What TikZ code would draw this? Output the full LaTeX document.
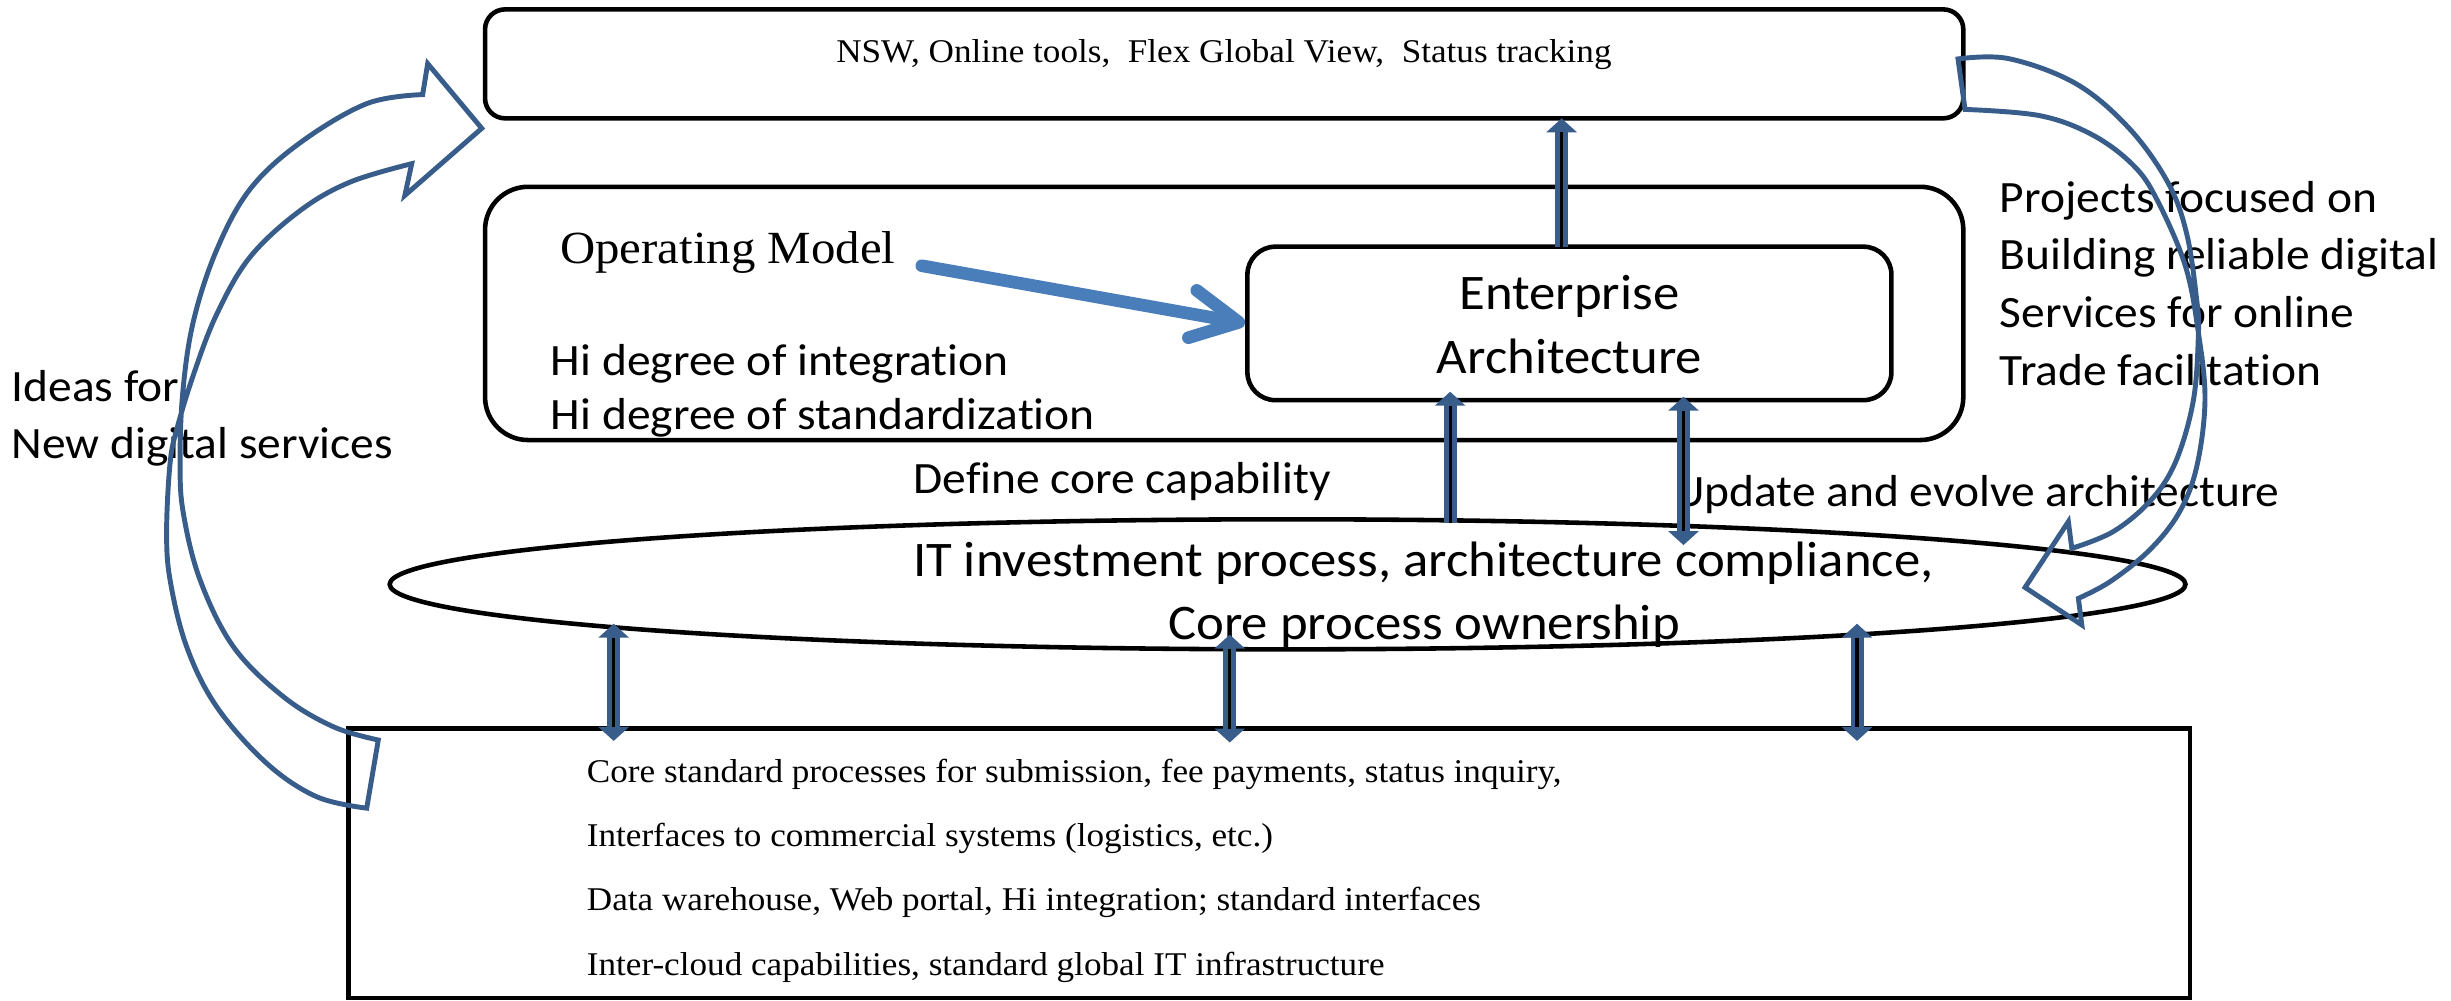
\documentclass[tikz,border=0pt]{standalone}
\usepackage{fontspec}
\setmainfont{Liberation Serif}[FakeStretch=1.06]
\newfontfamily\califont{Carlito}[FakeStretch=1.06, Ligatures=NoCommon]
\usetikzlibrary{arrows.meta,shapes.geometric,fit}
\definecolor{navy}{RGB}{56,93,138}
\definecolor{lblue}{RGB}{74,126,187}
\begin{document}
\begin{tikzpicture}[x=0.015631cm,y=-0.015631cm,
  box/.style={draw, line width=1.3pt, inner sep=0pt},
  cal/.style={font=\califont\fontsize{12.74}{15.3}\selectfont, inner sep=0pt},
  calbig/.style={font=\califont\fontsize{14.15}{17}\selectfont, inner sep=0pt},
  tms/.style={font=\fontsize{9.43}{11.3}\selectfont, inner sep=0pt},
  tmsbig/.style={font=\fontsize{13.1}{15.7}\selectfont, inner sep=0pt},
  dblarrow/.style={draw=navy, line width=3.7pt, {Triangle[width=0.3cm,length=0.14cm]}-{Triangle[width=0.3cm,length=0.14cm]}},
  uparrow/.style={draw=navy, line width=3.7pt, -{Triangle[width=0.3cm,length=0.14cm]}},
  core/.style={draw=black, line width=0.9pt},
  curved/.style={draw=navy, line width=1.4pt},
]
\useasboundingbox (0,0) rectangle (1568,639.75);

% boxes
\node[box, rounded corners=0.2cm, fit={(310.3,6) (1256,75.7)}] (topbox) {};
\node[box, rounded corners=0.43cm, fit={(310.3,119.5) (1256,281.5)}] (midbox) {};
\node[box, rounded corners=0.28cm, fit={(798,157.8) (1210,256)}] (ea) {};
\node[ellipse, draw, line width=1.3pt, minimum width=17.95cm, minimum height=1.30cm, inner sep=0pt] (ell) at (823.7,373.8) {};
\node[box, fit={(223,466) (1401,638.5)}] (botbox) {};

% texts
\node[tms, anchor=base] (toptext) at (783,40) {NSW, Online tools,\ \ Flex Global View,\ \ Status tracking};
\node[tmsbig, anchor=base west] (opm) at (358,168.5) {Operating Model};
\node[cal, anchor=base west] (hi1) at (352,240) {Hi degree of integration};
\node[cal, anchor=base west] (hi2) at (352,275) {Hi degree of standardization};
\node[calbig, anchor=base] (ea1) at (1004,198) {Enterprise};
\node[calbig, anchor=base] (ea2) at (1004,239) {Architecture};
\node[cal, anchor=base west] (ideas1) at (7,257) {Ideas for};
\node[cal, anchor=base west] (ideas2) at (7,293.6) {New digital services};
\node[cal, anchor=base west] (proj1) at (1279,136) {Projects focused on};
\node[cal, anchor=base west] (proj2) at (1279,172.3) {Building reliable digital};
\node[cal, anchor=base west] (proj3) at (1279,209.5) {Services for online};
\node[cal, anchor=base west] (proj4) at (1279,246.4) {Trade facilitation};
\node[cal, anchor=base west] (define) at (584,315.6) {Define core capability};
\node[cal, anchor=base west] (update) at (1070.5,324.2) {Update and evolve architecture};
\node[calbig, anchor=base] (it1) at (910.5,369) {IT investment process, architecture compliance,};
\node[calbig, anchor=base] (it2) at (911,409.4) {Core process ownership};
\node[tms, anchor=base west] (b1) at (375,500.7) {Core standard processes for submission, fee payments, status inquiry,};
\node[tms, anchor=base west] (b2) at (375,541.7) {Interfaces to commercial systems (logistics, etc.)};
\node[tms, anchor=base west] (b3) at (375,582.6) {Data warehouse, Web portal, Hi integration; standard interfaces};
\node[tms, anchor=base west] (b4) at (375,623.8) {Inter-cloud capabilities, standard global IT infrastructure};

% arrow end points
\coordinate (eaTop) at (999,157.8);
\coordinate (topIn) at (999,75.7);
\coordinate (ellTopA) at (927.7,334.6);
\coordinate (eaBotA) at (927.7,250.6);
\coordinate (eaBotB) at (1077,253.8);
\coordinate (ellInB) at (1077,348.7);
\coordinate (d1t) at (392.6,399);
\coordinate (d1b) at (392.6,474);
\coordinate (d2t) at (786.7,406);
\coordinate (d2b) at (786.7,475);
\coordinate (d3t) at (1188,399);
\coordinate (d3b) at (1188,474);
\coordinate (opmStart) at (589.7,170);

% vertical connectors
\draw[uparrow] (eaTop) -- (topIn);
\draw[core, shorten >=0.14cm] (eaTop) -- (topIn);
\draw[uparrow] (ellTopA) -- (eaBotA);
\draw[core, shorten >=0.14cm] (ellTopA) -- (eaBotA);
\draw[dblarrow] (ellInB) -- (eaBotB);
\draw[core, shorten >=0.14cm, shorten <=0.14cm] (ellInB) -- (eaBotB);
\foreach \t/\b in {d1t/d1b, d2t/d2b, d3t/d3b}{
  \draw[dblarrow] (\t) -- (\b);
  \draw[core, shorten >=0.14cm, shorten <=0.14cm] (\t) -- (\b);
}

% operating model arrow
\draw[lblue, line width=3.6pt, line cap=round, -{Straight Barb[length=0.47cm, width=0.48cm, round]}] (opmStart) -- (ea.west);

% left curved arrow
\draw[curved] (270.4,60.5) -- (273.6,40.7) -- (308.2,82.1) -- (259,125) -- (263.4,104.7)
  -- plot[smooth, tension=0.6] coordinates {(263.4,104.7) (223.9,116.5) (191.9,134.8) (159.9,164.5) (138.6,201.1) (123.7,239.9) (113,275) (108.8,296.4) (106.6,339.1) (108.8,371) (119.4,413.7) (138.6,452.1) (170.6,488.3) (202.6,509.7) (234.6,517)}
  -- (242,473.4)
  -- plot[smooth, tension=0.6] coordinates {(242,473.4) (213.2,464.9) (181.3,445.7) (149.3,413.7) (128,371) (117.3,328.4) (115.2,296.4) (116.9,251.3) (123.7,205.6) (138.6,159.9) (159.9,121.1) (191.9,91.4) (234.6,66.3) (270.4,60.5)}
  -- cycle;

% right curved arrow
\draw[curved] (1252.6,37.7)
  -- plot[smooth, tension=0.6] coordinates {(1252.6,37.7) (1285,37.5) (1328,53.5) (1362,82) (1387,117) (1399,150) (1405.3,191.9) (1406.4,213) (1403.2,255.9) (1392,295) (1376,320) (1352,340) (1325.4,350.8)}
  -- (1323.2,333.7) -- (1295.5,375.8) -- (1331.8,399.8) -- (1329.6,382.8)
  -- plot[smooth, tension=0.6] coordinates {(1329.6,382.8) (1350,372) (1375,352) (1394,328) (1405.3,298.6) (1410.6,255.9) (1406.4,213) (1398,170) (1380,128) (1365,106) (1339,86.5) (1305,74) (1257.1,70)}
  -- cycle;
\end{tikzpicture}
\end{document}
